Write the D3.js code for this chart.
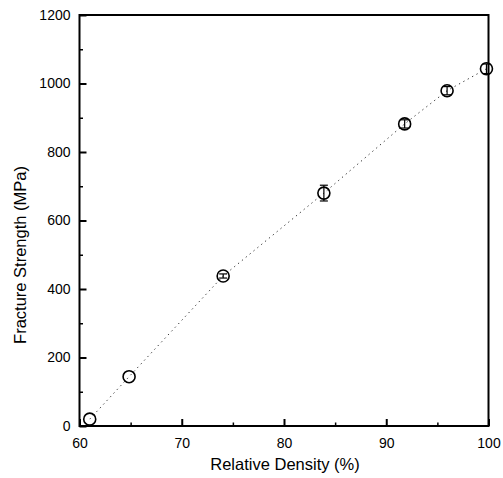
<!DOCTYPE html>
<html><head><meta charset="utf-8">
<script src="https://cdn.jsdelivr.net/npm/d3@7"></script>
<style>body{margin:0;background:#fff}svg{display:block}</style>
</head><body>
<svg id="c" width="503" height="478"></svg>
<script>
const density = [61.0, 64.85, 74.05, 83.9, 91.8, 95.95, 99.8];
const strength = [20, 144, 438, 680, 882, 979, 1043];
const errors = [0, 0, 6, 23, 12, 12, 14];
const xTicks = [60, 70, 80, 90, 100];
const yTicks = [0, 200, 400, 600, 800, 1000, 1200];
const xMinor = [65, 75, 85, 95];
const yMinor = [100, 300, 500, 700, 900, 1100];

const svg = d3.select("#c");
const L = 79.5, R = 488.5, T = 15, B = 426;
const x = d3.scaleLinear().domain([60, 100]).range([L, R]);
const y = d3.scaleLinear().domain([0, 1200]).range([B, T]);
const font = "'Liberation Sans', Arial, sans-serif";

// dotted connecting line
svg.append("path")
  .datum(density.map((d, i) => [d, strength[i]]))
  .attr("d", d3.line().x(d => x(d[0])).y(d => y(d[1])))
  .attr("fill", "none").attr("stroke", "#333").attr("stroke-width", 1)
  .attr("stroke-dasharray", "1.3,3.7");

// axes
const xAx = svg.append("g").attr("transform", `translate(0,${B})`)
  .call(d3.axisBottom(x).tickValues(xTicks).tickSizeInner(-7).tickSizeOuter(0).tickPadding(12).tickFormat(d3.format("d")));
const yAx = svg.append("g").attr("transform", `translate(${L},0)`)
  .call(d3.axisLeft(y).tickValues(yTicks).tickSizeInner(-7).tickSizeOuter(0).tickPadding(9).tickFormat(d3.format("d")));
[xAx, yAx].forEach(g => {
  g.select(".domain").remove();
  g.selectAll(".tick line").attr("stroke", "#000").attr("stroke-width", 2);
  g.selectAll(".tick text").attr("font-family", font).attr("font-size", 14).attr("fill", "#000");
});
svg.append("g").attr("transform", `translate(0,${B})`)
  .call(d3.axisBottom(x).tickValues(xMinor).tickSize(-3.5).tickFormat(""))
  .call(g => { g.select(".domain").remove(); g.selectAll("line").attr("stroke", "#000").attr("stroke-width", 1.5); });
svg.append("g").attr("transform", `translate(${L},0)`)
  .call(d3.axisLeft(y).tickValues(yMinor).tickSize(-3.5).tickFormat(""))
  .call(g => { g.select(".domain").remove(); g.selectAll("line").attr("stroke", "#000").attr("stroke-width", 1.5); });

// frame
svg.append("rect").attr("x", L).attr("y", T).attr("width", R - L).attr("height", B - T)
  .attr("fill", "none").attr("stroke", "#000").attr("stroke-width", 2);

// error bars
const eb = svg.append("g").attr("stroke", "#000").attr("stroke-width", 1.2);
density.forEach((d, i) => {
  if (!errors[i]) return;
  const cx = x(d), y1 = y(strength[i] + errors[i]), y2 = y(strength[i] - errors[i]);
  eb.append("line").attr("x1", cx).attr("x2", cx).attr("y1", y1).attr("y2", y2);
  eb.append("line").attr("x1", cx - 4).attr("x2", cx + 4).attr("y1", y1).attr("y2", y1);
  eb.append("line").attr("x1", cx - 4).attr("x2", cx + 4).attr("y1", y2).attr("y2", y2);
});

// markers
svg.append("g").selectAll("circle").data(density).join("circle")
  .attr("cx", d => x(d)).attr("cy", (d, i) => y(strength[i])).attr("r", 6)
  .attr("fill", "none").attr("stroke", "#000").attr("stroke-width", 1.6);

// titles
svg.append("text").attr("x", 285).attr("y", 470).attr("text-anchor", "middle")
  .attr("font-family", font).attr("font-size", 16.5).text("Relative Density (%)");
svg.append("text").attr("transform", "translate(26,255) rotate(-90)").attr("text-anchor", "middle")
  .attr("font-family", font).attr("font-size", 16.5).text("Fracture Strength (MPa)");
</script>
</body></html>
